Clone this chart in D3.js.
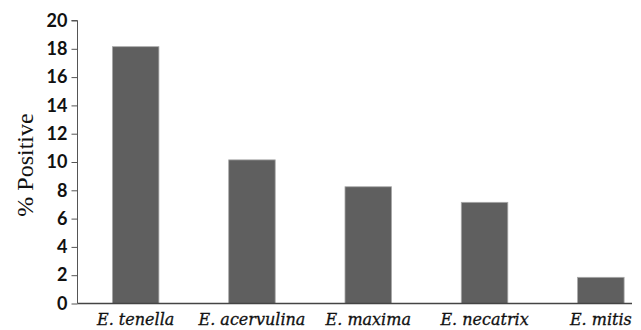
<!DOCTYPE html>
<html><head><meta charset="utf-8">
<script src="https://cdn.jsdelivr.net/npm/d3@7"></script>
<style>body{margin:0;background:#fff}svg{display:block}</style>
</head><body>
<script>
const categories = ["E. tenella","E. acervulina","E. maxima","E. necatrix","E. mitis"];
const values = [18.15, 10.15, 8.25, 7.15, 1.85];
const yTicks = [0,2,4,6,8,10,12,14,16,18,20];
const yLabel = "% Positive";

const W = 641, H = 330;
const svg = d3.select("body").append("svg").attr("width", W).attr("height", H);
const x0 = 77.5, y0 = 303.5, yTop = 20.5, xEnd = 632;
const x = d3.scaleBand().domain(categories).range([x0, 659]).paddingInner(0.6).paddingOuter(0.3);
const y = d3.scaleLinear().domain([0, 20]).range([y0, yTop]);

svg.append("g").selectAll("rect").data(values).join("rect")
  .attr("x", (d,i) => x(categories[i]))
  .attr("width", x.bandwidth())
  .attr("y", d => y(d))
  .attr("height", d => y0 - y(d))
  .attr("fill", "#5f5f5f")
  .attr("stroke", "#a8a8a8")
  .attr("stroke-width", 0.8);

const ya = svg.append("g").attr("transform", `translate(${x0},0)`)
  .call(d3.axisLeft(y).tickValues(yTicks).tickSize(6).tickPadding(4).tickFormat(d3.format("d")));
ya.selectAll("path,line").attr("stroke", "#555").attr("stroke-width", 1);
ya.select(".domain").attr("d", `M-6,${yTop}H0V${y0}`);
ya.selectAll("text").attr("font-family", "Lato, 'Open Sans', sans-serif").attr("font-weight", "bold")
  .attr("font-size", 18).attr("fill", "#111");

svg.append("line").attr("x1", x0).attr("x2", xEnd).attr("y1", y0).attr("y2", y0)
  .attr("stroke", "#444").attr("stroke-width", 1.3);

svg.append("g").selectAll("text").data(categories).join("text")
  .attr("x", d => x(d) + x.bandwidth()/2)
  .attr("y", 325)
  .attr("text-anchor", "middle")
  .attr("font-family", "'DejaVu Serif', 'Liberation Serif', serif")
  .attr("font-style", "italic")
  .attr("font-size", 16)
  .attr("fill", "#111")
  .attr("stroke", "#111")
  .attr("stroke-width", 0.3)
  .text(d => d);

svg.append("text")
  .attr("transform", `translate(33,165) rotate(-90)`)
  .attr("text-anchor", "middle")
  .attr("font-family", "'Liberation Serif', serif")
  .attr("font-size", 24)
  .attr("fill", "#111")
  .text(yLabel);
</script>
</body></html>
